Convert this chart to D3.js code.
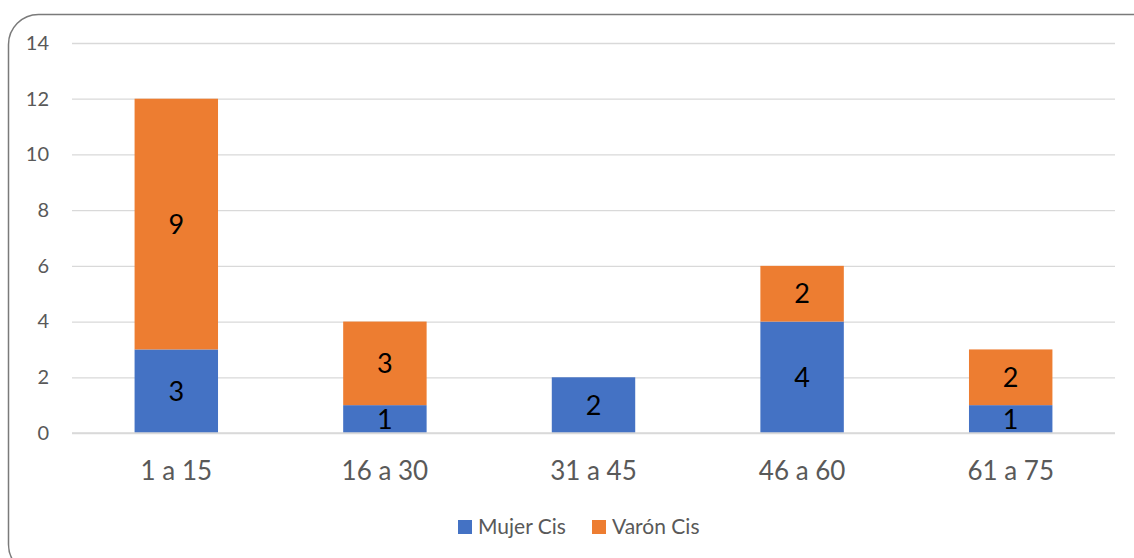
<!DOCTYPE html>
<html>
<head>
<meta charset="utf-8">
<script src="https://cdn.jsdelivr.net/npm/d3@7"></script>
<style>
  body { margin: 0; background: #fff; }
  svg { display: block; font-family: Lato, "Open Sans", sans-serif; }
</style>
</head>
<body>
<div id="chart"></div>
<script>
let categories = ["1 a 15", "16 a 30", "31 a 45", "46 a 60", "61 a 75"];
let mujerCis = [3, 1, 2, 4, 1];
let varonCis = [9, 3, 0, 2, 2];
let seriesNames = ["Mujer Cis", "Varón Cis"];
let seriesColors = ["#4472C4", "#ED7D31"];
let yTicks = [0, 2, 4, 6, 8, 10, 12, 14];

let W = 1134, H = 558;
let margins = { top: 43, right: 19, bottom: 125, left: 72 };
let width = W - margins.left - margins.right;
let height = H - margins.top - margins.bottom;

let svg = d3.select("#chart").append("svg")
    .attr("width", W)
    .attr("height", H);

// outer rounded frame, runs off the right and bottom edges
svg.append("rect")
    .attr("x", 8.5).attr("y", 14.5)
    .attr("width", 1160).attr("height", 560)
    .attr("rx", 30).attr("ry", 30)
    .style("fill", "none")
    .style("stroke", "#7a7a7a")
    .style("stroke-width", 1.5);

let g = svg.append("g")
    .attr("transform", "translate(" + margins.left + "," + margins.top + ")");

let x = d3.scaleBand().domain(categories).range([0, width]).paddingInner(0.6).paddingOuter(0.3);
let y = d3.scaleLinear().domain([0, 14]).range([height, 0]);

// gridlines
g.append("g")
    .attr("class", "grid")
    .call(d3.axisLeft(y).tickValues(yTicks).tickSize(-width).tickFormat(""))
    .call(s => s.select(".domain").remove())
    .selectAll("line")
    .style("stroke", "#D9D9D9")
    .style("stroke-width", 1.3);

// y labels
g.append("g")
    .call(d3.axisLeft(y).tickValues(yTicks).tickSize(0).tickPadding(23))
    .call(s => s.select(".domain").remove())
    .selectAll("text")
    .attr("font-family", "Lato, sans-serif")
    .attr("font-size", 20)
    .style("fill", "#595959");

// x labels
g.append("g")
    .attr("transform", "translate(0," + height + ")")
    .call(d3.axisBottom(x).tickSize(0).tickPadding(29))
    .call(s => s.select(".domain").remove())
    .selectAll("text")
    .attr("font-family", "Lato, sans-serif")
    .attr("font-size", 26)
    .style("fill", "#595959");

let rows = categories.map((c, i) => ({ cat: c, "Mujer Cis": mujerCis[i], "Varón Cis": varonCis[i] }));
let stacked = d3.stack().keys(seriesNames)(rows);

let layers = g.selectAll("g.layer")
    .data(stacked)
    .enter().append("g")
    .attr("class", "layer")
    .style("fill", (d, i) => seriesColors[i]);

layers.selectAll("rect")
    .data(d => d.filter(p => p[1] > p[0]))
    .enter().append("rect")
    .attr("x", d => x(d.data.cat))
    .attr("width", x.bandwidth())
    .attr("y", d => y(d[1]))
    .attr("height", d => y(d[0]) - y(d[1]));

layers.selectAll("text")
    .data(d => d.filter(p => p[1] > p[0]))
    .enter().append("text")
    .attr("x", d => x(d.data.cat) + x.bandwidth() / 2)
    .attr("y", d => (y(d[0]) + y(d[1])) / 2)
    .attr("dy", "0.36em")
    .attr("text-anchor", "middle")
    .attr("font-size", 27)
    .style("fill", "#000")
    .text(d => d[1] - d[0]);

// horizontal axis line at zero
g.append("line")
    .attr("x1", 0).attr("x2", width)
    .attr("y1", height).attr("y2", height)
    .style("stroke", "#D9D9D9")
    .style("stroke-width", 1.3);

// legend
let legend = svg.append("g").attr("transform", "translate(458,527)");
let legendX = [0, 134];
seriesNames.forEach((name, i) => {
    let item = legend.append("g").attr("transform", "translate(" + legendX[i] + ",0)");
    item.append("rect")
        .attr("x", 0).attr("y", -7)
        .attr("width", 14).attr("height", 14)
        .style("fill", seriesColors[i]);
    item.append("text")
        .attr("x", 20).attr("y", 0)
        .attr("dy", "0.35em")
        .attr("font-size", 21)
        .style("fill", "#595959")
        .text(name);
});
</script>
</body>
</html>
